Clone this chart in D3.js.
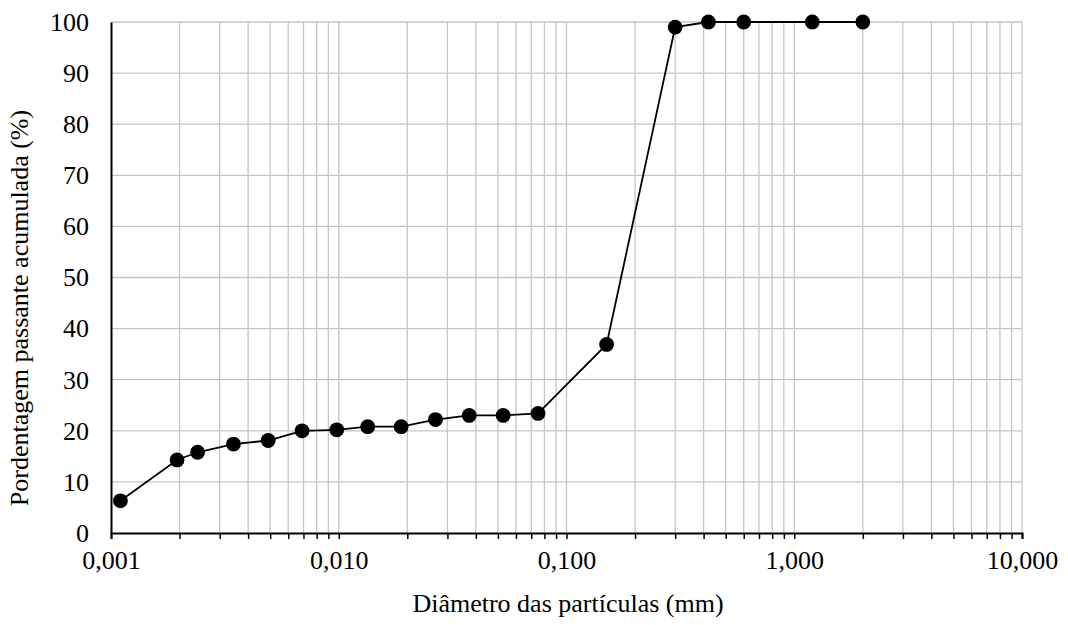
<!DOCTYPE html>
<html>
<head>
<meta charset="utf-8">
<script src="https://d3js.org/d3.v7.min.js"></script>
<style>
  body { margin: 0; background: #fff; }
  svg text { fill: #000; }
</style>
</head>
<body>
<script>
// particle size distribution (diameter in mm, cumulative % passing)
var diameters = [0.0011, 0.00195, 0.0024, 0.00345, 0.0049, 0.0069, 0.0098, 0.0134, 0.0188, 0.0266,
                 0.0374, 0.0527, 0.075, 0.15, 0.3, 0.42, 0.6, 1.2, 2.0];
var passing = [6.3, 14.3, 15.8, 17.4, 18.1, 20.0, 20.2, 20.8, 20.8, 22.2,
               23.0, 23.0, 23.4, 36.9, 99.0, 100, 100, 100, 100];
var xTickValues = [0.001, 0.01, 0.1, 1, 10];
var yTickValues = [0, 10, 20, 30, 40, 50, 60, 70, 80, 90, 100];

var FONT = "'Liberation Serif', 'DejaVu Serif', serif";

var W = 1068, H = 625;
var margin = {top: 22, right: 46, bottom: 92, left: 111};
var width = W - margin.left - margin.right;
var height = H - margin.top - margin.bottom;

var svg = d3.select("body").append("svg")
    .attr("width", W)
    .attr("height", H);
var g = svg.append("g")
    .attr("transform", "translate(" + margin.left + "," + margin.top + ")");

var x = d3.scaleLog().domain([0.001, 10]).range([0, width]);
var y = d3.scaleLinear().domain([0, 100]).range([height, 0]);

// all log gridline positions (1..9 per decade)
var minor = [];
for (var e = -3; e < 1; e++) {
    for (var k = 1; k <= 9; k++) minor.push(k * Math.pow(10, e));
}
minor.push(10);

function isMajor(d) {
    return xTickValues.some(function(v) { return Math.abs(v - d) < 1e-9; });
}

// grid
g.append("g").selectAll("line")
    .data(minor.slice(1))
    .enter().append("line")
    .attr("x1", function(d) { return x(d); })
    .attr("x2", function(d) { return x(d); })
    .attr("y1", 0).attr("y2", height)
    .attr("stroke", "#c6c6c6").attr("stroke-width", 1.3);
g.append("g").selectAll("line")
    .data(yTickValues.slice(1))
    .enter().append("line")
    .attr("x1", 0).attr("x2", width)
    .attr("y1", function(d) { return y(d); })
    .attr("y2", function(d) { return y(d); })
    .attr("stroke", "#c6c6c6").attr("stroke-width", 1.3);

// x axis
var xAxis = d3.axisBottom(x)
    .tickValues(minor)
    .tickSize(6)
    .tickFormat(function(d) {
        return isMajor(d) ? d3.format(",.3f")(d).replace(".", "#").replace(",", ".").replace("#", ",") : "";
    });
var gx = g.append("g")
    .attr("transform", "translate(0," + height + ")")
    .call(xAxis)
    .attr("font-family", FONT);
gx.select(".domain").attr("stroke", "#000").attr("stroke-width", 2);
gx.selectAll(".tick line").attr("stroke", "#000").attr("stroke-width", 1.5);
gx.selectAll("text").attr("font-size", "26px").attr("dy", "1.05em");

// y axis
var yAxis = d3.axisLeft(y).tickValues(yTickValues).tickSize(0).tickPadding(22);
var gy = g.append("g").call(yAxis).attr("font-family", FONT);
gy.select(".domain").attr("stroke", "#000").attr("stroke-width", 2);
gy.selectAll("text").attr("font-size", "26px");

// line + markers
var line = d3.line()
    .x(function(d, i) { return x(diameters[i]); })
    .y(function(d) { return y(d); });
g.append("path")
    .datum(passing)
    .attr("fill", "none")
    .attr("stroke", "#000")
    .attr("stroke-width", 1.8)
    .attr("d", line);
g.selectAll("circle")
    .data(passing)
    .enter().append("circle")
    .attr("cx", function(d, i) { return x(diameters[i]); })
    .attr("cy", function(d) { return y(d); })
    .attr("r", 7.4)
    .attr("fill", "#000");

// axis titles
svg.append("text")
    .attr("x", 568)
    .attr("y", 612)
    .attr("text-anchor", "middle")
    .attr("font-family", FONT)
    .attr("font-size", "26px")
    .text("Diâmetro das partículas (mm)");
svg.append("text")
    .attr("transform", "translate(28,308) rotate(-90)")
    .attr("text-anchor", "middle")
    .attr("font-family", FONT)
    .attr("font-size", "26px")
    .text("Pordentagem passante acumulada (%)");
</script>
</body>
</html>
